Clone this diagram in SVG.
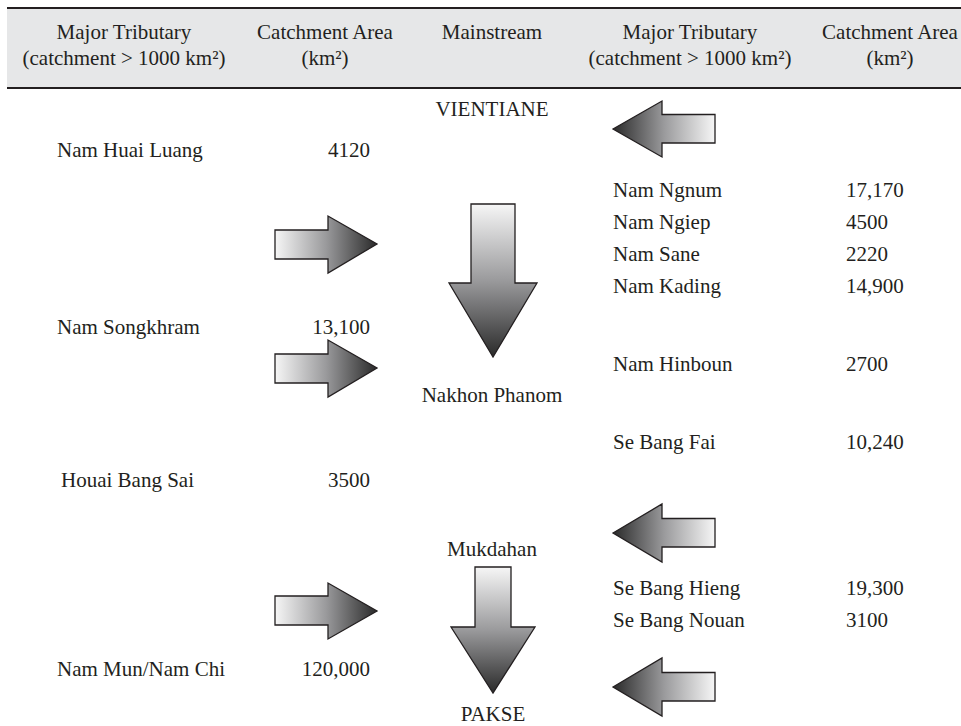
<svg xmlns="http://www.w3.org/2000/svg" width="961" height="726" viewBox="0 0 961 726">
<style>
text{font-family:"Liberation Serif","Times New Roman",serif;font-size:21px;fill:#231f20}
.c{text-anchor:middle}
.r{text-anchor:end}
.arr{stroke:#231f20;stroke-width:1.3;stroke-linejoin:miter}
.rt{fill:url(#gR)}
.lt{fill:url(#gL)}
.dn{fill:url(#gD)}
.rule{stroke:#231f20;stroke-width:2}
</style>
<defs>
<linearGradient id="gR" x1="0" y1="0" x2="1" y2="0">
<stop offset="0" stop-color="#f6f6f6"/><stop offset="0.5" stop-color="#9a9a9c"/><stop offset="1" stop-color="#2a2a2a"/>
</linearGradient>
<linearGradient id="gL" x1="1" y1="0" x2="0" y2="0">
<stop offset="0" stop-color="#f6f6f6"/><stop offset="0.5" stop-color="#9a9a9c"/><stop offset="1" stop-color="#2a2a2a"/>
</linearGradient>
<linearGradient id="gD" x1="0" y1="0" x2="0" y2="1">
<stop offset="0" stop-color="#f6f6f6"/><stop offset="0.5" stop-color="#9a9a9c"/><stop offset="1" stop-color="#2a2a2a"/>
</linearGradient>
</defs>
<rect width="961" height="726" fill="#ffffff"/>
<g id="header">
<rect x="7" y="8" width="954" height="80" fill="#e6e7e8"/>
<line class="rule" x1="7" y1="8" x2="961" y2="8"/>
<line class="rule" x1="7" y1="88" x2="961" y2="88"/>
<text class="c" x="124" y="39">Major Tributary</text>
<text class="c" x="124" y="65">(catchment &gt; 1000 km²)</text>
<text class="c" x="325" y="39">Catchment Area</text>
<text class="c" x="325" y="65">(km²)</text>
<text class="c" x="492" y="39">Mainstream</text>
<text class="c" x="690" y="39">Major Tributary</text>
<text class="c" x="690" y="65">(catchment &gt; 1000 km²)</text>
<text class="c" x="890" y="39">Catchment Area</text>
<text class="c" x="890" y="65">(km²)</text>
</g>
<g id="vientiane"><text class="c" x="492" y="116">VIENTIANE</text></g>
<g id="nakhon-phanom"><text class="c" x="492" y="402">Nakhon Phanom</text></g>
<g id="mukdahan"><text class="c" x="492" y="556">Mukdahan</text></g>
<g id="pakse"><text class="c" x="493" y="721">PAKSE</text></g>
<g id="nam-huai-luang"><text x="57" y="157">Nam Huai Luang</text><text class="r" x="370" y="157">4120</text></g>
<g id="nam-songkhram"><text x="57" y="334">Nam Songkhram</text><text class="r" x="370" y="334">13,100</text></g>
<g id="houai-bang-sai"><text x="61" y="487">Houai Bang Sai</text><text class="r" x="370" y="487">3500</text></g>
<g id="nam-mun"><text x="57" y="676">Nam Mun/Nam Chi</text><text class="r" x="370" y="676">120,000</text></g>
<g id="nam-ngnum"><text x="613" y="197">Nam Ngnum</text><text x="846" y="197">17,170</text></g>
<g id="nam-ngiep"><text x="613" y="229">Nam Ngiep</text><text x="846" y="229">4500</text></g>
<g id="nam-sane"><text x="613" y="261">Nam Sane</text><text x="846" y="261">2220</text></g>
<g id="nam-kading"><text x="613" y="293">Nam Kading</text><text x="846" y="293">14,900</text></g>
<g id="nam-hinboun"><text x="613" y="371">Nam Hinboun</text><text x="846" y="371">2700</text></g>
<g id="se-bang-fai"><text x="613" y="449">Se Bang Fai</text><text x="846" y="449">10,240</text></g>
<g id="se-bang-hieng"><text x="613" y="595">Se Bang Hieng</text><text x="846" y="595">19,300</text></g>
<g id="se-bang-nouan"><text x="613" y="627">Se Bang Nouan</text><text x="846" y="627">3100</text></g>
<g id="connectors">
<polygon class="arr lt" points="613,129 662,101 662,114.5 715,114.5 715,143 662,143 662,157"/>
<polygon class="arr lt" points="613,533 662,504 662,518.5 715,518.5 715,547 662,547 662,562"/>
<polygon class="arr lt" points="613,687 662,658 662,672.5 715,672.5 715,701 662,701 662,716"/>
<polygon class="arr rt" points="275,230 328,230 328,216 377,244 328,273 328,259 275,259"/>
<polygon class="arr rt" points="275,354 328,354 328,340 377,368 328,397 328,383 275,383"/>
<polygon class="arr rt" points="275,596 328,596 328,583 377,611 328,639 328,625 275,625"/>
<polygon class="arr dn" points="471,204 515,204 515,283 537,283 493,357 449,283 471,283"/>
<polygon class="arr dn" points="475,567 511,567 511,627 535,627 493,693 451,627 475,627"/>
</g>
</svg>
